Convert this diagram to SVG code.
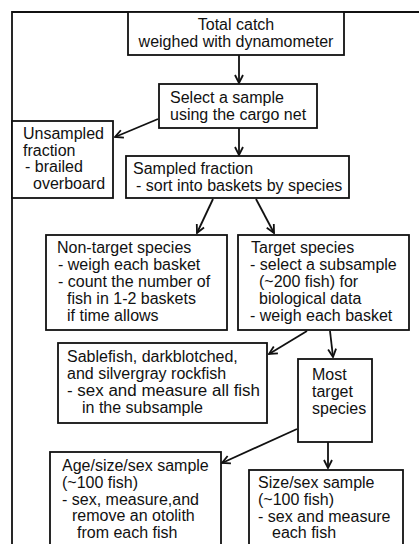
<svg xmlns="http://www.w3.org/2000/svg" width="419" height="544" viewBox="0 0 419 544">
<style>
rect.b{fill:#fff;stroke:#111;stroke-width:1.8}
.c line,.c path{stroke:#111;stroke-width:1.8;fill:none}
text{font-family:"Liberation Sans",Arial,sans-serif;font-size:16px;fill:#111}
</style>
<defs>
<marker id="ah" viewBox="0 0 10 10" refX="9" refY="5" markerWidth="10" markerHeight="10" markerUnits="userSpaceOnUse" orient="auto">
<path d="M1,1 L9,5 L1,9" fill="none" stroke="#111" stroke-width="1.8"/>
</marker>
</defs>
<rect width="419" height="544" fill="#fff"/>
<g class="c" id="connectors">
<path d="M12,544 L12,12 L419,12"/>
<line x1="239" y1="55" x2="239" y2="83" marker-end="url(#ah)"/>
<line x1="158" y1="119" x2="115" y2="137" marker-end="url(#ah)"/>
<line x1="239" y1="128" x2="239" y2="155" marker-end="url(#ah)"/>
<line x1="213" y1="199" x2="197" y2="233" marker-end="url(#ah)"/>
<line x1="256" y1="199" x2="274" y2="233" marker-end="url(#ah)"/>
<line x1="307" y1="331" x2="269" y2="354" marker-end="url(#ah)"/>
<line x1="330" y1="331" x2="333" y2="357" marker-end="url(#ah)"/>
<line x1="297" y1="429" x2="222" y2="463" marker-end="url(#ah)"/>
<line x1="328" y1="442" x2="328" y2="468" marker-end="url(#ah)"/>
</g>
<g id="total">
<rect class="b" x="128" y="12" width="216" height="43"/>
<text x="236" y="30" text-anchor="middle">Total catch</text>
<text x="236" y="47" text-anchor="middle">weighed with dynamometer</text>
</g>
<g id="select">
<rect class="b" x="159" y="84" width="158" height="44"/>
<text x="170" y="103">Select a sample</text>
<text x="170" y="120">using the cargo net</text>
</g>
<g id="unsampled">
<rect class="b" x="12" y="121" width="101" height="77"/>
<text x="23" y="139">Unsampled</text>
<text x="23" y="156">fraction</text>
<text x="25" y="172">- brailed</text>
<text x="33" y="189">overboard</text>
</g>
<g id="sampled">
<rect class="b" x="126" y="156" width="223" height="42"/>
<text x="133" y="174">Sampled fraction</text>
<text x="136" y="191">- sort into baskets by species</text>
</g>
<g id="nontarget">
<rect class="b" x="46" y="235" width="181" height="95"/>
<text x="57" y="253">Non-target species</text>
<text x="58" y="270">- weigh each basket</text>
<text x="58" y="287">- count the number of</text>
<text x="67" y="304">fish in 1-2 baskets</text>
<text x="67" y="321">if time allows</text>
</g>
<g id="target">
<rect class="b" x="238" y="235" width="171" height="95"/>
<text x="251" y="253">Target species</text>
<text x="250" y="270">- select a subsample</text>
<text x="259" y="287">(~200 fish) for</text>
<text x="259" y="304">biological data</text>
<text x="250" y="321">- weigh each basket</text>
</g>
<g id="sablefish">
<rect class="b" x="58" y="343" width="209" height="80"/>
<text x="67" y="362">Sablefish, darkblotched,</text>
<text x="67" y="379">and silvergray rockfish</text>
<text x="67" y="396" textLength="193" lengthAdjust="spacingAndGlyphs">- sex and measure all fish</text>
<text x="82" y="413">in the subsample</text>
</g>
<g id="most">
<rect class="b" x="298" y="359" width="74" height="83"/>
<text x="312" y="380">Most</text>
<text x="312" y="397">target</text>
<text x="312" y="414">species</text>
</g>
<g id="agesizesex">
<rect class="b" x="50" y="452" width="171" height="110"/>
<text x="62" y="471">Age/size/sex sample</text>
<text x="62" y="488">(~100 fish)</text>
<text x="62" y="505">- sex, measure,and</text>
<text x="72" y="521">remove an otolith</text>
<text x="77" y="538">from each fish</text>
</g>
<g id="sizesex">
<rect class="b" x="249" y="470" width="154" height="92"/>
<text x="258" y="488">Size/sex sample</text>
<text x="258" y="505">(~100 fish)</text>
<text x="258" y="522">- sex and measure</text>
<text x="272" y="538">each fish</text>
</g>
</svg>
